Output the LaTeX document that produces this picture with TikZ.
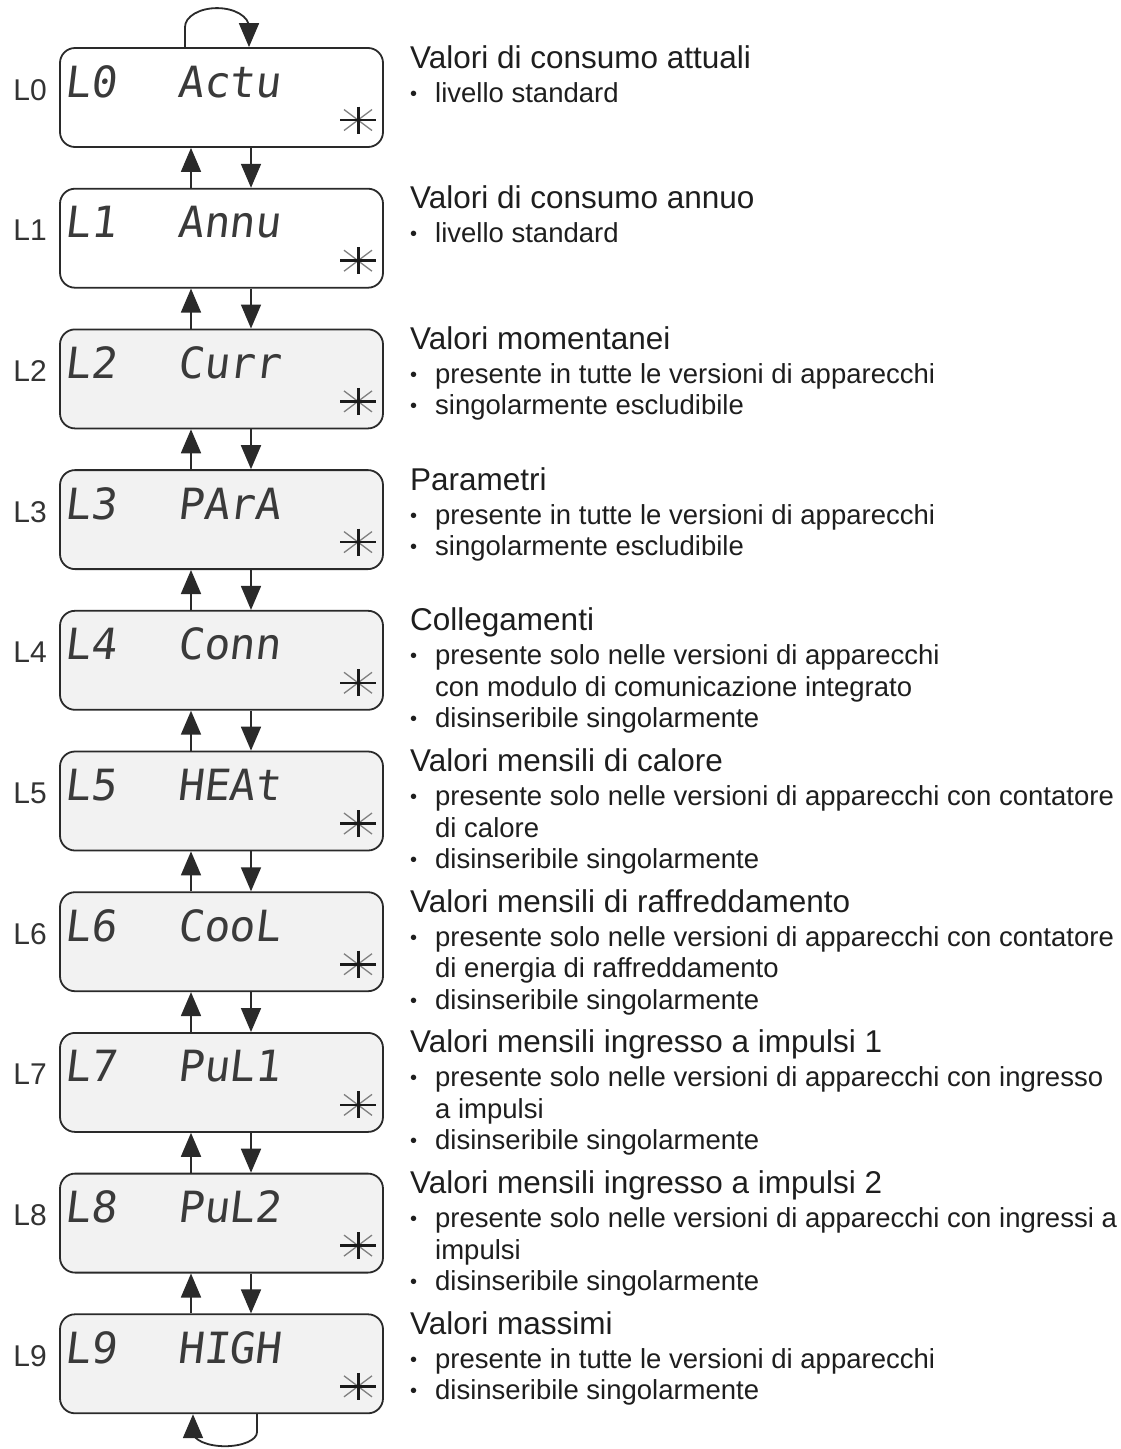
\documentclass[tikz,border=0pt]{standalone}
\usepackage{fontspec}
\setmainfont{Liberation Sans}
\newfontfamily\lcdfont[FakeSlant=0.12]{DejaVu Sans Mono}
\usetikzlibrary{arrows.meta,calc}
\definecolor{txt}{HTML}{1E1E1E}
\definecolor{lbl}{HTML}{333333}
\definecolor{frame}{HTML}{2A2A2A}
\definecolor{lcdgray}{HTML}{F2F2F2}
\definecolor{lcdink}{HTML}{1A1A1A}
\definecolor{lcdtext}{HTML}{3A3A3A}
\newcommand\bl{\makebox[25pt][l]{\raisebox{2pt}{\fontsize{20}{20}\selectfont\textbullet}}}
\tikzset{
  lcdbox/.style={draw=frame, line width=1.8pt, rounded corners=15pt, minimum width=323pt, minimum height=99pt, inner sep=0pt},
  lvl/.style={anchor=base east, inner sep=0pt, text=lbl, font=\fontsize{30}{32}\selectfont},
  lcd/.style={anchor=base west, inner sep=0pt, text=lcdtext, font=\lcdfont\fontsize{43}{44}\selectfont},
  ttl/.style={anchor=base west, inner sep=0pt, text=txt, font=\fontsize{31.5}{36}\selectfont},
  bul/.style={anchor=base west, inner sep=0pt, text=txt, font=\fontsize{27.5}{32}\selectfont},
  arr/.style={draw=frame, line width=1.8pt, -{Triangle[length=24pt,width=20pt]}},
  lcdstar/.pic={
    \draw[line width=1.3pt, gray] (-14,-10.5) -- (14,10.5) (-14,10.5) -- (14,-10.5);
    \draw[line width=2.6pt, lcdink] (-18,0) -- (18,0);
    \draw[line width=3pt, lcdink] (0,-13.5) -- (0,13.5);
  }
}
\begin{document}
\begin{tikzpicture}[x=1pt,y=-1pt]
\useasboundingbox (0,0) rectangle (1120,1449);
\fill[white] (0,0) rectangle (1120,1449);
\coordinate (upx) at (191,0);
\coordinate (dnx) at (251,0);
\coordinate (tl) at (185,0);
\coordinate (tr) at (249,0);
\coordinate (bl) at (193,0);
\coordinate (br) at (257,0);
\foreach \i/\a/\b in {0/L0/Actu,1/L1/Annu,2/L2/Curr,3/L3/PArA,4/L4/Conn,5/L5/HEAt,6/L6/CooL,7/L7/PuL1,8/L8/PuL2,9/L9/HIGH}{
  \pgfmathsetmacro\Y{48+140.7*\i}
  \pgfmathparse{\i<2?"white":"lcdgray"}\edef\fc{\pgfmathresult}
  \node[lcdbox, fill=\fc] (b\i) at (221.5,{\Y+49.5}) {};
  \node[lvl] (l\i) at (47,{\Y+52}) {\a};
  \node[lcd] (c\i) at (64,{\Y+49}) {\a};
  \node[lcd] (w\i) at (177,{\Y+49}) {\b};
  \pic at (358,{\Y+72}) {lcdstar};
}
\foreach \i [evaluate=\i as \j using int(\i+1)] in {0,...,8}{
  \draw[arr] (b\j.north -| upx) -- (b\i.south -| upx);
  \draw[arr] (b\i.south -| dnx) -- (b\j.north -| dnx);
}
\draw[arr] (b0.north -| tl) -- ++(0,-20) arc[start angle=180, end angle=360, x radius=32, y radius=19] -- (b0.north -| tr);
\draw[arr] (b9.south -| br) -- ++(0,18) arc[start angle=0, end angle=180, x radius=32, y radius=14] -- (b9.south -| bl);

% descriptions
\node[ttl] (t0) at (410,68) {Valori di consumo attuali};
\node[bul] (d0a) at (410,102) {\bl livello standard};

\node[ttl] (t1) at (410,208.7) {Valori di consumo annuo};
\node[bul] (d1a) at (410,242.7) {\bl livello standard};

\node[ttl] (t2) at (410,349.4) {Valori momentanei};
\node[bul] (d2a) at (410,383.4) {\bl presente in tutte le versioni di apparecchi};
\node[bul] (d2b) at (410,414.9) {\bl singolarmente escludibile};

\node[ttl] (t3) at (410,490.1) {Parametri};
\node[bul] (d3a) at (410,524.1) {\bl presente in tutte le versioni di apparecchi};
\node[bul] (d3b) at (410,555.6) {\bl singolarmente escludibile};

\node[ttl] (t4) at (410,630.8) {Collegamenti};
\node[bul] (d4a) at (410,664.8) {\bl presente solo nelle versioni di apparecchi};
\node[bul] (d4b) at (435,696.3) {con modulo di comunicazione integrato};
\node[bul] (d4c) at (410,727.8) {\bl disinseribile singolarmente};

\node[ttl] (t5) at (410,771.5) {Valori mensili di calore};
\node[bul] (d5a) at (410,805.5) {\bl presente solo nelle versioni di apparecchi con contatore};
\node[bul] (d5b) at (435,837) {di calore};
\node[bul] (d5c) at (410,868.5) {\bl disinseribile singolarmente};

\node[ttl] (t6) at (410,912.2) {Valori mensili di raffreddamento};
\node[bul] (d6a) at (410,946.2) {\bl presente solo nelle versioni di apparecchi con contatore};
\node[bul] (d6b) at (435,977.7) {di energia di raffreddamento};
\node[bul] (d6c) at (410,1009.2) {\bl disinseribile singolarmente};

\node[ttl] (t7) at (410,1052.9) {Valori mensili ingresso a impulsi 1};
\node[bul] (d7a) at (410,1086.9) {\bl presente solo nelle versioni di apparecchi con ingresso};
\node[bul] (d7b) at (435,1118.4) {a impulsi};
\node[bul] (d7c) at (410,1149.9) {\bl disinseribile singolarmente};

\node[ttl] (t8) at (410,1193.6) {Valori mensili ingresso a impulsi 2};
\node[bul] (d8a) at (410,1227.6) {\bl presente solo nelle versioni di apparecchi con ingressi a};
\node[bul] (d8b) at (435,1259.1) {impulsi};
\node[bul] (d8c) at (410,1290.6) {\bl disinseribile singolarmente};

\node[ttl] (t9) at (410,1334.3) {Valori massimi};
\node[bul] (d9a) at (410,1368.3) {\bl presente in tutte le versioni di apparecchi};
\node[bul] (d9b) at (410,1399.8) {\bl disinseribile singolarmente};
\end{tikzpicture}
\end{document}
